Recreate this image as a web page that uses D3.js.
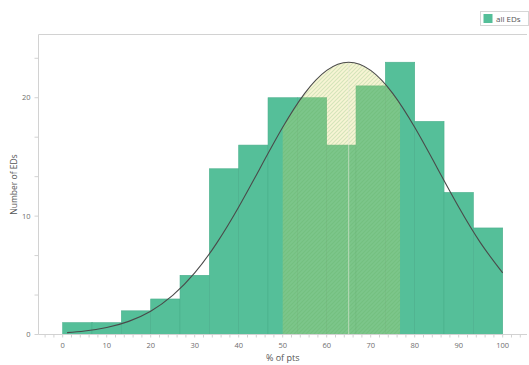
<!DOCTYPE html>
<html>
<head>
<meta charset="utf-8">
<script src="https://cdn.jsdelivr.net/npm/d3@7"></script>
<style>
  body { margin: 0; background: #fff; }
  svg { display: block; font-family: "Open Sans", "DejaVu Sans", sans-serif; }
</style>
</head>
<body>
<svg id="chart" width="529" height="365"></svg>
<script>
// Histogram bins (% of pts) and counts of EDs per bin
const binEdges = [0, 6.667, 13.333, 20, 26.667, 33.333, 40, 46.667, 53.333, 60, 66.667, 73.333, 80, 86.667, 93.333, 100];
const counts = [1, 1, 2, 3, 5, 14, 16, 20, 20, 16, 21, 23, 18, 12, 9];

// Fitted normal curve, sampled points (x in %, y in count)
const fitX = [1, 5, 10, 15, 20, 25, 30, 35, 40, 45, 50, 55, 60, 65, 70, 75, 80, 85, 90, 95, 100];
const fitY = [0.16, 0.29, 0.59, 1.11, 1.97, 3.30, 5.20, 7.72, 10.77, 14.15, 17.50, 20.37, 22.31, 23.0, 22.31, 20.37, 17.50, 14.15, 10.77, 7.72, 5.20];
const fitMean = 65;

// Shaded interval under the curve
const highlightRange = [50, 76.667];

const xTicks = [0, 10, 20, 30, 40, 50, 60, 70, 80, 90, 100];
const yTicks = [0, 10, 20];
const legendLabel = "all EDs";
const xTitle = "% of pts";
const yTitle = "Number of EDs";

const barColor = "#55bf99";
const axisColor = "#d2d2d2";
const textColor = "#6e6e6e";

const svg = d3.select("#chart");
const x = d3.scaleLinear().domain([0, 100]).range([62.7, 502.7]);
const y = d3.scaleLinear().domain([0, 25.3]).range([334.5, 35]);
const frame = { left: 38.5, right: 527, top: 34.5, bottom: 334.5 };

// Hatch pattern for the shaded interval
const defs = svg.append("defs");
const pat = defs.append("pattern")
  .attr("id", "hatch").attr("patternUnits", "userSpaceOnUse")
  .attr("width", 4).attr("height", 4);
pat.append("rect").attr("width", 4).attr("height", 4).attr("fill", "rgba(228,218,100,0.27)");
pat.append("path").attr("d", "M-1,1 l2,-2 M0,4 l4,-4 M3,5 l2,-2")
  .attr("stroke", "rgba(80,165,90,0.22)").attr("stroke-width", 1.1);

defs.append("clipPath").attr("id", "rangeClip")
  .append("rect")
  .attr("x", x(highlightRange[0])).attr("y", frame.top)
  .attr("width", x(highlightRange[1]) - x(highlightRange[0]))
  .attr("height", frame.bottom - frame.top);

// Frame lines
svg.append("line").attr("x1", frame.left).attr("x2", frame.right)
  .attr("y1", frame.top).attr("y2", frame.top).attr("stroke", axisColor);
svg.append("line").attr("x1", frame.left).attr("x2", frame.left)
  .attr("y1", frame.top).attr("y2", frame.bottom).attr("stroke", axisColor);

// Bars
const bars = counts.map((c, i) => ({ x0: binEdges[i], x1: binEdges[i + 1], c }));
svg.append("g").selectAll("rect").data(bars).join("rect")
  .attr("x", d => x(d.x0))
  .attr("y", d => y(d.c))
  .attr("width", d => x(d.x1) - x(d.x0))
  .attr("height", d => y(0) - y(d.c))
  .attr("fill", barColor)
  .attr("stroke", "#4aae8b")
  .attr("stroke-width", 0.6);

// Shaded area under the curve over the interval
const fitPts = fitX.map((v, i) => [v, fitY[i]]);
const area = d3.area().x(d => x(d[0])).y0(y(0)).y1(d => y(d[1])).curve(d3.curveNatural);
svg.append("path").datum(fitPts)
  .attr("d", area)
  .attr("fill", "url(#hatch)")
  .attr("clip-path", "url(#rangeClip)");

// Mean line
svg.append("line")
  .attr("x1", x(fitMean)).attr("x2", x(fitMean))
  .attr("y1", y(0)).attr("y2", y(d3.max(fitY)))
  .attr("stroke", "rgba(235,235,220,0.6)").attr("stroke-width", 1);

// Fitted curve
const line = d3.line().x(d => x(d[0])).y(d => y(d[1])).curve(d3.curveNatural);
svg.append("path").datum(fitPts)
  .attr("d", line).attr("fill", "none")
  .attr("stroke", "#4a4a4a").attr("stroke-width", 1.1);

// X axis
const xAxisG = svg.append("g").attr("transform", `translate(0,${frame.bottom})`);
xAxisG.append("line").attr("x1", frame.left).attr("x2", frame.right)
  .attr("stroke", axisColor);
const xMinor = d3.range(-4, 107, 2).filter(v => x(v) > frame.left + 1 && x(v) < frame.right);
xAxisG.selectAll("line.minor").data(xMinor).join("line").attr("class", "minor")
  .attr("x1", d => x(d)).attr("x2", d => x(d)).attr("y1", 0).attr("y2", 3)
  .attr("stroke", axisColor);
xAxisG.selectAll("text").data(xTicks).join("text")
  .attr("x", d => x(d)).attr("y", 13)
  .attr("text-anchor", "middle").attr("font-size", 7.5).attr("fill", textColor)
  .text(d => d);

// Y axis
const yAxisG = svg.append("g");
const yMinor = d3.range(0, 25.3, 10 / 3);
yAxisG.selectAll("line").data(yMinor).join("line")
  .attr("x1", frame.left - 4).attr("x2", frame.left)
  .attr("y1", d => y(d)).attr("y2", d => y(d))
  .attr("stroke", axisColor);
yAxisG.selectAll("text").data(yTicks).join("text")
  .attr("x", 30.5).attr("y", d => y(d) + 2.7)
  .attr("text-anchor", "end").attr("font-size", 7.5).attr("fill", textColor)
  .text(d => d);

// Axis titles
svg.append("text").attr("x", x(50)).attr("y", 361)
  .attr("text-anchor", "middle").attr("font-size", 9).attr("fill", "#555")
  .text(xTitle);
svg.append("text").attr("transform", `translate(17,${(frame.top + frame.bottom) / 2}) rotate(-90)`)
  .attr("text-anchor", "middle").attr("font-size", 8.5).attr("fill", "#555")
  .text(yTitle);

// Legend
const lg = svg.append("g").attr("transform", "translate(480,11)");
lg.append("rect").attr("x", 0.5).attr("y", 0.5).attr("width", 48).attr("height", 14)
  .attr("fill", "#fff").attr("stroke", "#d6d6d6");
lg.append("rect").attr("x", 3.5).attr("y", 3).attr("width", 9).attr("height", 9)
  .attr("fill", barColor);
lg.append("text").attr("x", 16).attr("y", 10.5).attr("font-size", 8).attr("fill", "#555")
  .text(legendLabel);
</script>
</body>
</html>
